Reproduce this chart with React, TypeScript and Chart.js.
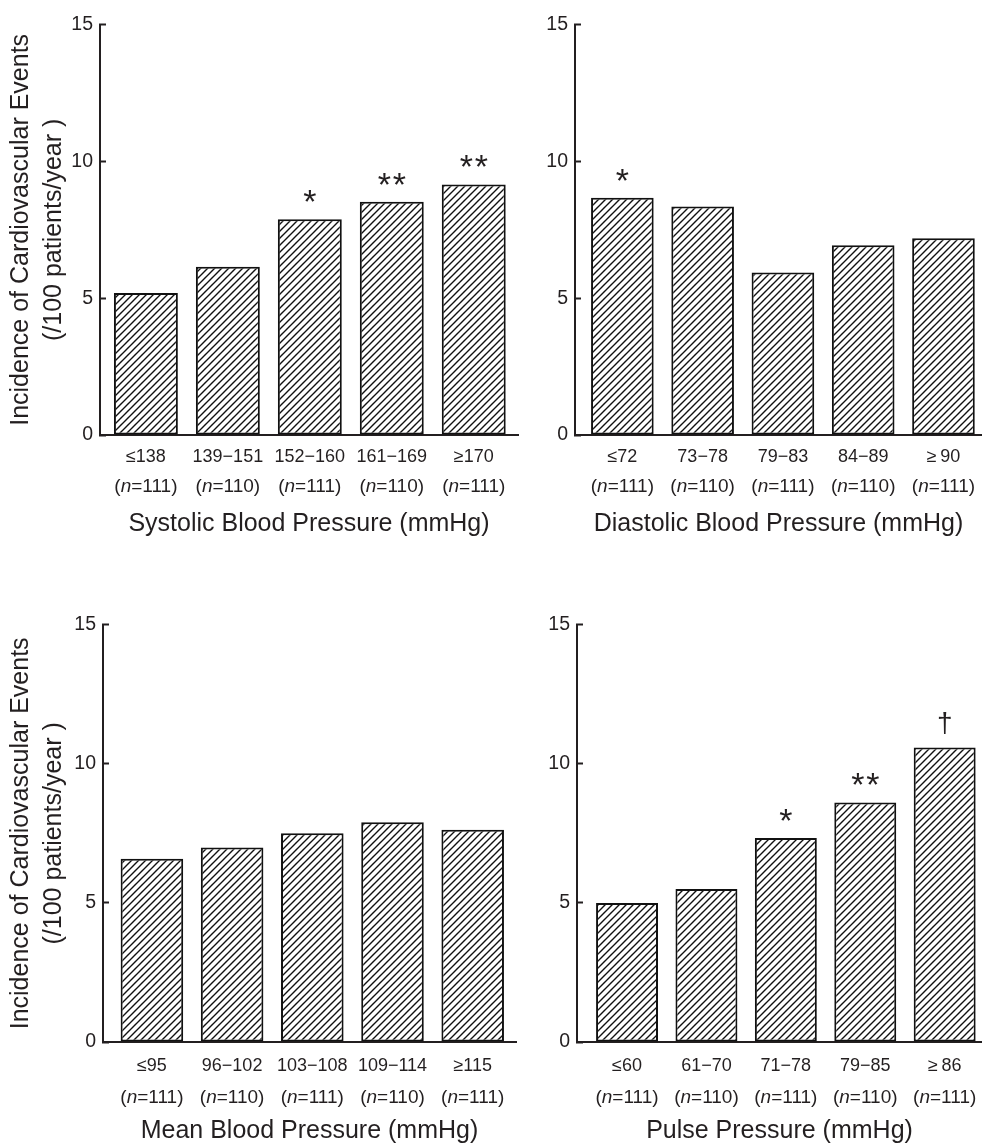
import React, { useEffect, useRef } from "react";
import { Chart, registerables } from "chart.js";

Chart.register(...registerables);

// ---------- data ----------
const sbpCategories = ["≤138", "139−151", "152−160", "161−169", "≥170"];
const sbpCounts = [111, 110, 111, 110, 111];
const sbpValues = [5.19, 6.15, 7.89, 8.53, 9.16];
const sbpMarks = ["", "", "*", "**", "**"];

const dbpCategories = ["≤72", "73−78", "79−83", "84−89", "≥\u200990"];
const dbpCounts = [111, 110, 111, 110, 111];
const dbpValues = [8.67, 8.35, 5.94, 6.94, 7.19];
const dbpMarks = ["*", "", "", "", ""];

const mbpCategories = ["≤95", "96−102", "103−108", "109−114", "≥115"];
const mbpCounts = [111, 110, 111, 110, 111];
const mbpValues = [6.59, 6.99, 7.5, 7.9, 7.63];
const mbpMarks = ["", "", "", "", ""];

const ppCategories = ["≤60", "61−70", "71−78", "79−85", "≥\u200986"];
const ppCounts = [111, 110, 111, 110, 111];
const ppValues = [5.0, 5.5, 7.33, 8.61, 10.59];
const ppMarks = ["", "", "*", "**", "†"];

const yTickValues = [0, 5, 10, 15];
const yTitleLines = ["Incidence of Cardiovascular Events", "(/100 patients/year )"];

// ---------- styles / layout ----------
const INK = "#231f20";
const FAMILY = "'Liberation Sans', Arial, Helvetica, sans-serif";

type Panel = {
  key: string;
  categories: string[];
  counts: number[];
  values: number[];
  marks: string[];
  xTitle: string;
  showYTitle: boolean;
  box: { left: number; top: number; width: number; height: number };
  axisLeft: number;
  chartTop: number;
  chartBottom: number;
  chartRight: number;
  xMin: number;
  xMax: number;
  labelPad: number;
  countGap: number;
};

const panels: Panel[] = [
  {
    key: "sbp",
    categories: sbpCategories,
    counts: sbpCounts,
    values: sbpValues,
    marks: sbpMarks,
    xTitle: "Systolic Blood Pressure (mmHg)",
    showYTitle: true,
    box: { left: 0, top: 0, width: 530, height: 537 },
    axisLeft: 100,
    chartTop: 18,
    chartBottom: 435,
    chartRight: 518,
    xMin: -0.56,
    xMax: 4.54,
    labelPad: 11,
    countGap: 52,
  },
  {
    key: "dbp",
    categories: dbpCategories,
    counts: dbpCounts,
    values: dbpValues,
    marks: dbpMarks,
    xTitle: "Diastolic Blood Pressure (mmHg)",
    showYTitle: false,
    box: { left: 490, top: 0, width: 492, height: 537 },
    axisLeft: 575,
    chartTop: 18,
    chartBottom: 435,
    chartRight: 982,
    xMin: -0.59,
    xMax: 4.48,
    labelPad: 11,
    countGap: 52,
  },
  {
    key: "mbp",
    categories: mbpCategories,
    counts: mbpCounts,
    values: mbpValues,
    marks: mbpMarks,
    xTitle: "Mean Blood Pressure (mmHg)",
    showYTitle: true,
    box: { left: 0, top: 600, width: 530, height: 544 },
    axisLeft: 103,
    chartTop: 624,
    chartBottom: 1042,
    chartRight: 516,
    xMin: -0.61,
    xMax: 4.54,
    labelPad: 13,
    countGap: 56,
  },
  {
    key: "pp",
    categories: ppCategories,
    counts: ppCounts,
    values: ppValues,
    marks: ppMarks,
    xTitle: "Pulse Pressure (mmHg)",
    showYTitle: false,
    box: { left: 490, top: 600, width: 492, height: 544 },
    axisLeft: 577,
    chartTop: 624,
    chartBottom: 1042,
    chartRight: 982,
    xMin: -0.63,
    xMax: 4.47,
    labelPad: 13,
    countGap: 56,
  },
];

function makeHatch(ctx: CanvasRenderingContext2D): CanvasPattern | string {
  const size = 7;
  const tile = document.createElement("canvas");
  tile.width = size;
  tile.height = size;
  const g = tile.getContext("2d");
  if (!g) return "#fff";
  g.fillStyle = "#ffffff";
  g.fillRect(0, 0, size, size);
  g.strokeStyle = "#111111";
  g.lineWidth = 1.4;
  g.beginPath();
  g.moveTo(-1, size + 1);
  g.lineTo(size + 1, -1);
  g.moveTo(-1, 1);
  g.lineTo(1, -1);
  g.moveTo(size - 1, size + 1);
  g.lineTo(size + 1, size - 1);
  g.stroke();
  return ctx.createPattern(tile, "repeat") || "#fff";
}

const annotPlugin = {
  id: "annot",
  afterDatasetsDraw(chart: any, _args: any, opts: any) {
    const panel: Panel = opts.panel;
    if (!panel) return;
    const { ctx } = chart;
    const meta = chart.getDatasetMeta(0);
    const yScale = chart.scales.y;
    const xScale = chart.scales.x;
    ctx.save();
    ctx.fillStyle = INK;
    ctx.textAlign = "center";
    ctx.textBaseline = "alphabetic";
    // significance marks
    meta.data.forEach((bar: any, i: number) => {
      const mark = panel.marks[i];
      if (!mark) return;
      const { x, y } = bar.getProps(["x", "y"], true);
      if (mark === "†") {
        ctx.font = `28px ${FAMILY}`;
        ctx.fillText(mark, x, y - 15);
      } else {
        ctx.font = `34px ${FAMILY}`;
        const chars = mark.split("");
        const step = 15;
        chars.forEach((c, k) => {
          const dx = (k - (chars.length - 1) / 2) * step;
          ctx.fillText(c, x + dx, y - 6);
        });
      }
    });
    // second line of category labels: (n=111) with italic n
    const baseY = yScale.getPixelForValue(0) + panel.countGap;
    const normal = `19px ${FAMILY}`;
    const italic = `italic 19px ${FAMILY}`;
    ctx.textBaseline = "middle";
    ctx.textAlign = "left";
    panel.counts.forEach((n, i) => {
      const cx = xScale.getPixelForValue(i);
      const parts = [
        { t: "(", f: normal },
        { t: "n", f: italic },
        { t: "=" + n + ")", f: normal },
      ];
      let w = 0;
      parts.forEach((p) => {
        ctx.font = p.f;
        w += ctx.measureText(p.t).width;
      });
      let px = cx - w / 2;
      parts.forEach((p) => {
        ctx.font = p.f;
        ctx.fillText(p.t, px, baseY);
        px += ctx.measureText(p.t).width;
      });
    });
    ctx.restore();
  },
};

function PanelChart({ panel }: { panel: Panel }) {
  const ref = useRef<HTMLCanvasElement | null>(null);
  useEffect(() => {
    const canvas = ref.current;
    if (!canvas) return;
    const ctx = canvas.getContext("2d");
    if (!ctx) return;
    const hatch = makeHatch(ctx);
    const { box } = panel;
    const chart = new Chart(canvas, {
      type: "bar",
      data: {
        datasets: [
          {
            data: panel.values.map((v, i) => ({ x: i, y: v })),
            backgroundColor: hatch as any,
            borderColor: "#111111",
            borderWidth: 2,
            borderSkipped: false,
            barPercentage: 0.78,
            categoryPercentage: 1,
          },
        ],
      },
      options: {
        responsive: false,
        animation: false,
        devicePixelRatio: 1,
        layout: {
          padding: {
            left: 0,
            top: panel.chartTop - box.top,
            right: box.left + box.width - panel.chartRight,
            bottom: 0,
          },
        },
        plugins: {
          legend: { display: false },
          tooltip: { enabled: false },
          annot: { panel },
        } as any,
        scales: {
          x: {
            type: "linear",
            offset: false,
            min: panel.xMin,
            max: panel.xMax,
            grid: { display: false, drawTicks: false, offset: false },
            border: { display: true, width: 2, color: INK },
            afterBuildTicks: (s: any) => {
              s.ticks = panel.categories.map((_, i) => ({ value: i }));
            },
            afterFit: (s: any) => {
              s.height = box.top + box.height - panel.chartBottom;
            },
            ticks: {
              autoSkip: false,
              maxRotation: 0,
              minRotation: 0,
              padding: panel.labelPad,
              color: INK,
              font: { family: FAMILY, size: 18 },
              callback: (v: any) => panel.categories[v] ?? "",
            },
            title: {
              display: true,
              text: panel.xTitle,
              color: INK,
              font: { family: FAMILY, size: 25, lineHeight: 1 },
              padding: 0,
            },
          },
          y: {
            type: "linear",
            min: 0,
            max: 15,
            afterBuildTicks: (s: any) => {
              s.ticks = yTickValues.map((v) => ({ value: v }));
            },
            afterFit: (s: any) => {
              s.width = panel.axisLeft - box.left;
            },
            grid: {
              drawOnChartArea: false,
              drawTicks: true,
              tickLength: -6,
              tickWidth: 2,
              tickColor: INK,
            },
            border: { display: true, width: 2, color: INK },
            ticks: {
              padding: 13,
              color: INK,
              font: { family: FAMILY, size: 19.5 },
            },
            title: {
              display: panel.showYTitle,
              text: yTitleLines,
              color: INK,
              font: { family: FAMILY, size: 25, lineHeight: 1.3 },
              padding: { top: 5, bottom: 0 },
            },
          },
        },
      },
      plugins: [annotPlugin],
    } as any);
    return () => chart.destroy();
  }, [panel]);
  const { box } = panel;
  return (
    <canvas
      ref={ref}
      width={box.width}
      height={box.height}
      style={{
        position: "absolute",
        left: box.left,
        top: box.top,
        width: box.width,
        height: box.height,
      }}
    />
  );
}

export default function App() {
  return (
    <div
      style={{
        position: "absolute",
        left: 0,
        top: 0,
        width: 982,
        height: 1144,
        overflow: "hidden",
        background: "#ffffff",
      }}
    >
      {panels.map((p) => (
        <PanelChart key={p.key} panel={p} />
      ))}
    </div>
  );
}
